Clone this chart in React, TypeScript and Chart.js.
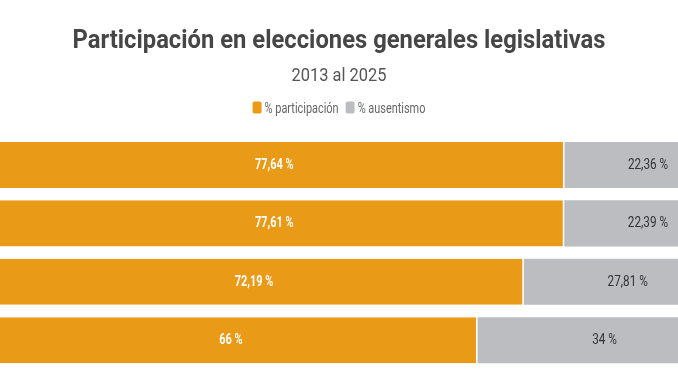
import React, { useEffect, useRef } from 'react';
import { Chart, registerables } from 'chart.js';

Chart.register(...registerables);

const TITLE = 'Participación en elecciones generales legislativas';
const SUBTITLE = '2013 al 2025';
const categories = ['2013', '2017', '2021', '2025'];
const seriesNames = ['% participación', '% ausentismo'];
const participacion = [77.64, 77.61, 72.19, 66];
const ausentismo = [22.36, 22.39, 27.81, 34];
const seriesColors = ['#E99A17', '#BBBDC1'];

const fmt = (v: number) => String(v).replace('.', ',') + ' %';

function drawCond(
  ctx: CanvasRenderingContext2D,
  text: string,
  x: number,
  y: number,
  font: string,
  sx: number,
  align: CanvasTextAlign,
  baseline: CanvasTextBaseline,
  color: string
) {
  ctx.save();
  ctx.font = font;
  ctx.fillStyle = color;
  ctx.textAlign = align;
  ctx.textBaseline = baseline;
  ctx.translate(x, y);
  ctx.scale(sx, 1);
  ctx.fillText(text, 0, 0);
  ctx.restore();
}

function fitScale(ctx: CanvasRenderingContext2D, text: string, font: string, width: number) {
  ctx.save();
  ctx.font = font;
  const w = ctx.measureText(text).width;
  ctx.restore();
  return width / w;
}

const textPlugin = {
  id: 'condensedText',
  afterDraw(chart: any) {
    const ctx: CanvasRenderingContext2D = chart.ctx;
    const cx = chart.width / 2;
    // title
    const tFont = 'bold 25px Roboto';
    drawCond(ctx, TITLE, cx, 48, tFont, fitScale(ctx, TITLE, tFont, 533), 'center', 'alphabetic', '#464646');
    // subtitle
    const sFont = '19px Roboto';
    drawCond(ctx, SUBTITLE, cx, 81, sFont, fitScale(ctx, SUBTITLE, sFont, 95), 'center', 'alphabetic', '#555555');
    // legend
    const lFont = '14px Roboto';
    const lsx = 0.78;
    const boxW = 9;
    const boxH = 12;
    const gapBox = 3;
    const gapItem = 7;
    const items = chart.data.datasets.map((ds: any) => {
      ctx.save();
      ctx.font = lFont;
      const w = ctx.measureText(ds.label).width * lsx;
      ctx.restore();
      return { label: ds.label, color: ds.backgroundColor, w };
    });
    const total = items.reduce((a: number, it: any) => a + boxW + gapBox + it.w, 0) + gapItem * (items.length - 1);
    let x = cx - total / 2;
    const ly = 107.5;
    items.forEach((it: any) => {
      ctx.save();
      ctx.fillStyle = it.color;
      ctx.beginPath();
      (ctx as any).roundRect(x, ly - boxH / 2, boxW, boxH, 2);
      ctx.fill();
      ctx.restore();
      x += boxW + gapBox;
      drawCond(ctx, it.label, x, ly + 5, lFont, lsx, 'left', 'alphabetic', '#666666');
      x += it.w + gapItem;
    });
    // bar value labels
    const labelStyles = [
      { font: 'bold 14px Roboto', color: '#ffffff', sx: 0.78 },
      { font: '14px Roboto', color: '#333333', sx: 0.84 },
    ];
    chart.data.datasets.forEach((ds: any, di: number) => {
      const meta = chart.getDatasetMeta(di);
      meta.data.forEach((el: any, i: number) => {
        const p = el.getProps(['x', 'y', 'base'], true);
        const mx = (p.x + p.base) / 2;
        const st = labelStyles[di];
        drawCond(ctx, fmt(ds.data[i]), mx, p.y + 0.5, st.font, st.sx, 'center', 'middle', st.color);
      });
    });
  },
};

const bgPlugin = {
  id: 'bg',
  beforeDraw(chart: any) {
    const ctx = chart.ctx;
    ctx.save();
    ctx.fillStyle = '#ffffff';
    ctx.fillRect(0, 0, chart.width, chart.height);
    ctx.restore();
  },
};

export default function App() {
  const ref = useRef<HTMLCanvasElement | null>(null);
  useEffect(() => {
    document.body.style.margin = '0';
    const canvas = ref.current;
    if (!canvas) return;
    const chart = new Chart(canvas, {
      type: 'bar',
      data: {
        labels: categories,
        datasets: [
          {
            label: seriesNames[0],
            data: participacion,
            backgroundColor: seriesColors[0],
            borderColor: '#ffffff',
            borderWidth: { top: 0, bottom: 0, left: 0, right: 1.5 },
            borderSkipped: false,
            barPercentage: 0.79,
            categoryPercentage: 1,
          },
          {
            label: seriesNames[1],
            data: ausentismo,
            backgroundColor: seriesColors[1],
            borderWidth: 0,
            barPercentage: 0.79,
            categoryPercentage: 1,
          },
        ],
      },
      options: {
        indexAxis: 'y',
        responsive: false,
        maintainAspectRatio: false,
        animation: false,
        devicePixelRatio: 1,
        layout: { padding: { top: 135.8, bottom: 11.6, left: 0, right: 0 } },
        scales: {
          x: { stacked: true, display: false, min: 2.11, max: 92.83 },
          y: { stacked: true, display: false },
        },
        plugins: {
          legend: { display: false },
          title: { display: false },
          tooltip: { enabled: false },
        },
      },
      plugins: [bgPlugin, textPlugin],
    });
    return () => chart.destroy();
  }, []);
  return (
    <div style={{ width: 678, height: 381, overflow: 'hidden' }}>
      <canvas ref={ref} width={678} height={381} style={{ display: 'block' }} />
    </div>
  );
}
